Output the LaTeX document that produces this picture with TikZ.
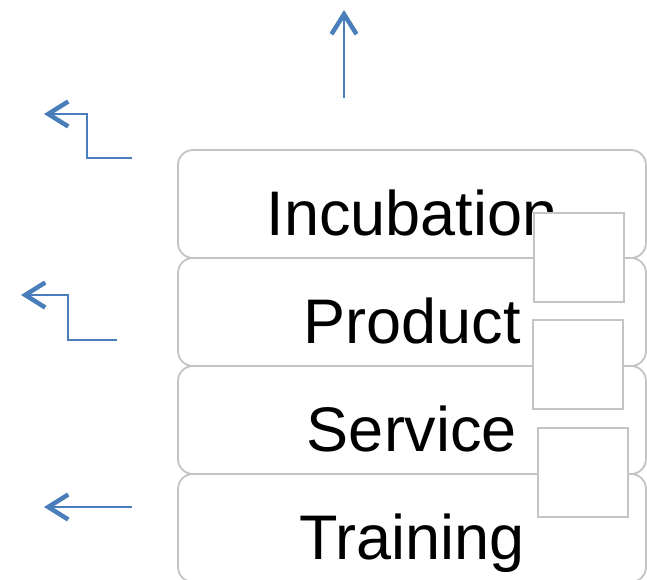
\documentclass[tikz,border=0pt]{standalone}
\usepackage{fontspec}
\setmainfont{Liberation Sans}
\usetikzlibrary{positioning,arrows.meta}
\definecolor{flowblue}{HTML}{4A7EBB}
\definecolor{edgegray}{HTML}{C4C4C4}
\begin{document}
\begin{tikzpicture}[
	x=1pt, y=-1pt,
	stage/.style = {draw=edgegray, line width=1.8pt, fill=white, rounded corners=15pt,
		minimum width=468pt, minimum height=108pt, outer sep=0pt, inner sep=0pt,
		text height=62pt, text depth=0pt, font=\fontsize{63}{70}\selectfont},
	tab/.style = {draw=edgegray, line width=1.2pt, fill=white,
		minimum width=90pt, minimum height=89pt, inner sep=0pt},
	flow/.style = {draw=flowblue, line width=1.8pt,
		-{Straight Barb[length=20pt,width=25pt,line width=4.5pt]}}
]
\useasboundingbox (0,0) rectangle (647,580);

\node[stage] (incubation) at (412,204) {Incubation};
\node[stage, below=0pt of incubation] (product) {Product};
\node[stage, below=0pt of product] (service) {Service};
\node[stage, below=0pt of service] (training) {Training};

\node[tab] (tabA) at (579,257.5) {};
\node[tab] (tabB) at (578,364.5) {};
\node[tab] (tabC) at (583,472.5) {};

\coordinate (upS) at (344,98);
\coordinate (upE) at (344,10);
\coordinate (incS) at (132,158);
\coordinate (incE) at (44,114);
\coordinate (prodS) at (117,340);
\coordinate (prodE) at (21,295);
\coordinate (trainS) at (132,507);
\coordinate (trainE) at (44,507);

\draw[flow] (upS) -- (upE);
\draw[flow] (incS) -- ++(-45,0) |- (incE);
\draw[flow] (prodS) -- ++(-49,0) |- (prodE);
\draw[flow] (trainS) -- (trainE);

\end{tikzpicture}
\end{document}
